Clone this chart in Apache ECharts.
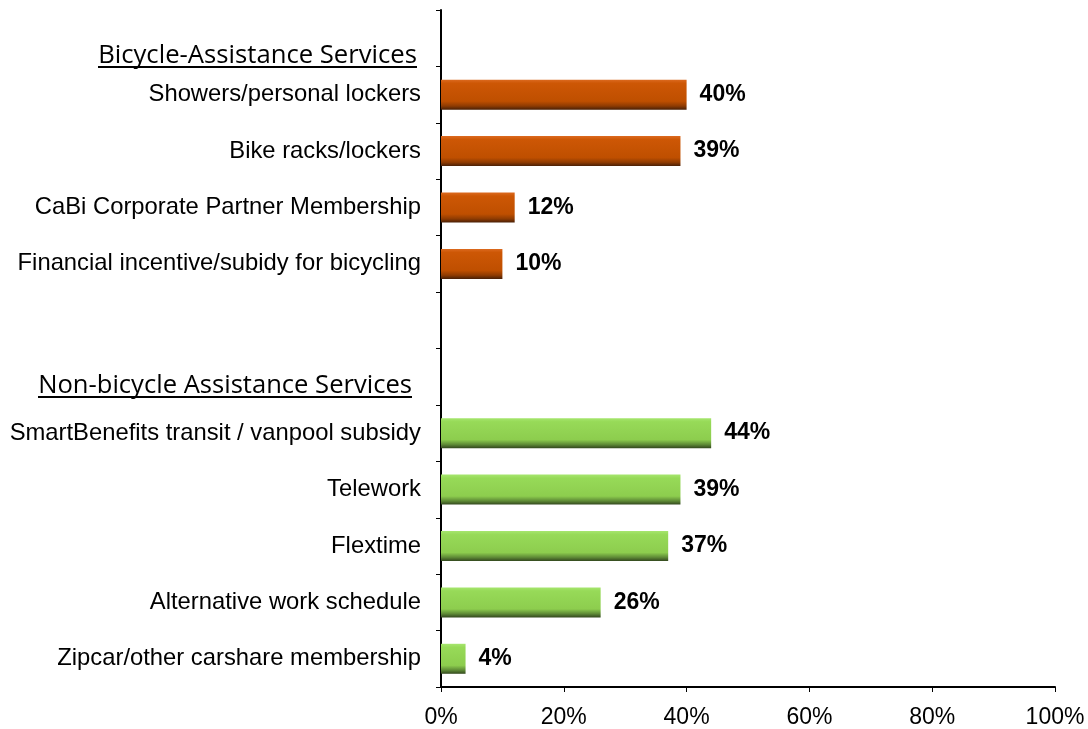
<!DOCTYPE html>
<html>
<head>
<meta charset="utf-8">
<script src="https://cdn.jsdelivr.net/npm/echarts@6/dist/echarts.min.js"></script>
<style>
html,body{margin:0;padding:0;background:#fff;}
#c{width:1088px;height:729px;}
</style>
</head>
<body>
<div id="c"></div>
<script>
// ---- data ----
const groupHeaders = ['Bicycle-Assistance Services', 'Non-bicycle Assistance Services'];
const bikeCategories = ['Showers/personal lockers', 'Bike racks/lockers', 'CaBi Corporate Partner Membership', 'Financial incentive/subidy for bicycling'];
const bikeValues = [40, 39, 12, 10];
const nonBikeCategories = ['SmartBenefits transit / vanpool subsidy', 'Telework', 'Flextime', 'Alternative work schedule', 'Zipcar/other carshare membership'];
const nonBikeValues = [44, 39, 37, 26, 4];
const xTickLabels = ['0%', '20%', '40%', '60%', '80%', '100%'];

// category slots: header, bike items, blank, header, non-bike items
const categories = ['h1'].concat(bikeCategories, ['blank', 'h2'], nonBikeCategories);
const bikeData = categories.map(c => { const i = bikeCategories.indexOf(c); return i >= 0 ? bikeValues[i] : '-'; });
const nonBikeData = categories.map(c => { const i = nonBikeCategories.indexOf(c); return i >= 0 ? nonBikeValues[i] : '-'; });

const orangeGrad = new echarts.graphic.LinearGradient(0, 0, 0, 1, [
  {offset: 0, color: '#DC6A20'},
  {offset: 0.12, color: '#CD5705'},
  {offset: 0.72, color: '#BF4F00'},
  {offset: 0.88, color: '#8E3B02'},
  {offset: 1, color: '#4A2006'}
]);
const greenGrad = new echarts.graphic.LinearGradient(0, 0, 0, 1, [
  {offset: 0, color: '#A6E66E'},
  {offset: 0.12, color: '#97DA58'},
  {offset: 0.72, color: '#8DCD4E'},
  {offset: 0.88, color: '#5E8A36'},
  {offset: 1, color: '#33481E'}
]);

const headerFamily = 'Open Sans';
function textWidth(t, font) {
  const cv = document.createElement('canvas');
  const ctx = cv.getContext('2d');
  ctx.font = font;
  return ctx.measureText(t).width;
}
// header text fitted between left and right edges, baseline and underline as in the reference
function header(text, leftX, rightX, baselineY, lineY) {
  const w100 = textWidth(text, '100px ' + headerFamily);
  const size = 100 * (rightX - leftX) / w100;
  const font = size.toFixed(2) + 'px "' + headerFamily + '"';
  return {
    type: 'group',
    children: [
      {type: 'text', x: rightX, y: baselineY - 0.26 * size, style: {text: text, font: font, fill: '#000', align: 'right', verticalAlign: 'middle'}},
      {type: 'line', shape: {x1: leftX, y1: lineY, x2: rightX, y2: lineY}, style: {stroke: '#000', lineWidth: 2}}
    ]
  };
}

const chart = echarts.init(document.getElementById('c'), null, {renderer: 'canvas'});
const labelStyle = {show: true, position: 'right', distance: 13, formatter: '{c}%', color: '#000', fontFamily: 'Liberation Sans, Arial', fontSize: 23, fontWeight: 'bold'};
chart.setOption({
  animation: false,
  backgroundColor: '#fff',
  grid: {left: 441, right: 33, top: 10, bottom: 41, containLabel: false},
  xAxis: {
    type: 'value', min: 0, max: 100, interval: 20,
    axisLine: {show: true, lineStyle: {color: '#000', width: 2}},
    axisTick: {show: true, length: 5, lineStyle: {color: '#000', width: 1}},
    splitLine: {show: false},
    axisLabel: {margin: 19, color: '#000', fontFamily: 'Liberation Sans, Arial', fontSize: 23,
      formatter: v => xTickLabels[Math.round(v / 20)]}
  },
  yAxis: {
    type: 'category', data: categories, inverse: true,
    axisLine: {show: true, lineStyle: {color: '#000', width: 2}},
    axisTick: {show: true, length: 5, lineStyle: {color: '#000', width: 1}},
    axisLabel: {margin: 20, color: '#000', fontFamily: 'Liberation Sans, Arial', fontSize: 23.8,
      formatter: v => (v === 'h1' || v === 'h2' || v === 'blank') ? '' : v}
  },
  series: [
    {type: 'bar', name: 'bike', data: bikeData, stack: 'all', barWidth: 30, itemStyle: {color: orangeGrad}, label: labelStyle},
    {type: 'bar', name: 'nonbike', data: nonBikeData, stack: 'all', barWidth: 30, itemStyle: {color: greenGrad}, label: labelStyle}
  ],
  graphic: [
    header(groupHeaders[0], 98, 417, 62, 67),
    header(groupHeaders[1], 38, 412, 392, 397)
  ]
});
</script>
</body>
</html>
